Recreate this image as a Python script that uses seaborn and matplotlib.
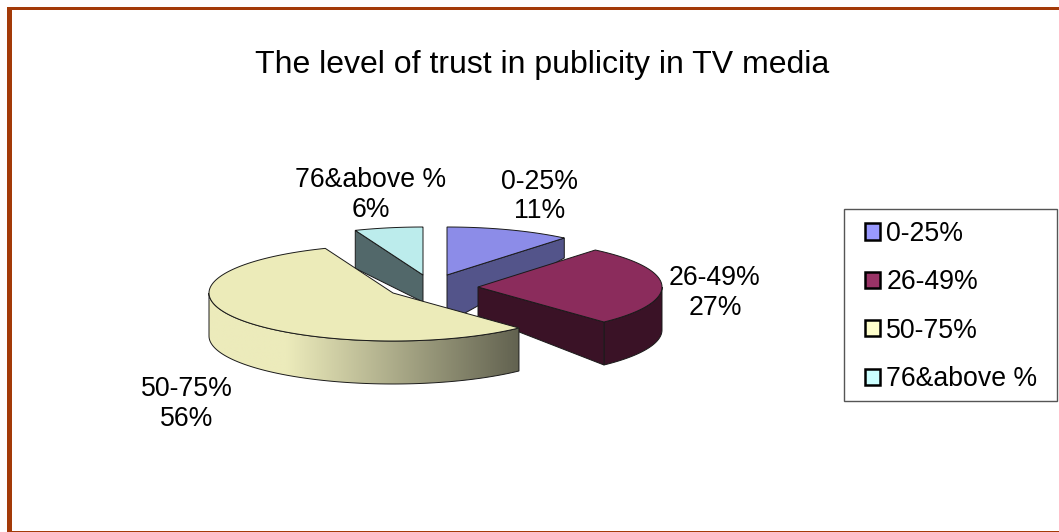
import numpy as np
import matplotlib
matplotlib.use("Agg")
import matplotlib.pyplot as plt
from matplotlib.colors import to_rgb
from matplotlib.patches import Patch, Polygon, Rectangle
import seaborn as sns

# Survey shares, in percent
categories = ["0-25%", "26-49%", "50-75%", "76&above %"]
shares = [11, 27, 56, 6]
title = "The level of trust in publicity in TV media"

# Pie styling
legend_colors = ["#9999ff", "#993366", "#ffffcc", "#ccffff"]
top_colors = ["#8c8ce8", "#8b2c5c", "#ecebb9", "#bcecec"]
wall_colors = ["#53548a", "#3a1226", "#e8e8b8", "#52686a"]
apexes = [(447, 275), (478, 287), (393, 293), (423, 275)]
label_xy = [(540, 196.5), (715, 293), (187, 404), (371, 195)]
apex_depth = [48, 29, 30, 27]
RX, RY = 184, 48
FRAME = "#a33a08"

sns.set_theme(style="white")
plt.rcParams["font.family"] = ["Liberation Sans", "DejaVu Sans"]

fig = plt.figure(figsize=(10.59, 5.32), dpi=100)
ax = fig.add_axes([0, 0, 1, 1])
ax.set_xlim(0, 1059)
ax.set_ylim(532, 0)
ax.axis("off")

# Outer frame
ax.add_patch(Rectangle((7, 7), 1052, 2.5, color=FRAME, lw=0))
ax.add_patch(Rectangle((7, 7), 5, 525, color=FRAME, lw=0))
ax.add_patch(Rectangle((7, 530.5), 1052, 1.5, color=FRAME, lw=0))

fractions = np.array(shares) / sum(shares)
ends = np.cumsum(fractions) * 2 * np.pi
starts = ends - fractions * 2 * np.pi


def rim(center, a, b, n=120):
    t = np.linspace(a, b, n)
    return np.column_stack([center[0] + RX * np.sin(t), center[1] - RY * np.cos(t)])


def shifted(points, dy):
    return points + np.array([0, dy])


edge = dict(edgecolor="#1a1a1a", linewidth=0.7)
draw_order = [3, 0, 1, 2]

# Back slices first, then the ones that overlap them
for i in draw_order:
    c, a, b = apexes[i], starts[i], ends[i]
    apex = np.array(c, dtype=float)
    arc = rim(c, a, b)
    z = 10 + draw_order.index(i) * 3

    if i == 3:
        # radial face running from the centre out to the left corner
        face = [apex, arc[0], arc[0] + [0, 38], apex + [0, apex_depth[i]]]
        ax.add_patch(Polygon(face, facecolor=wall_colors[i], zorder=z, **edge))
    elif i == 0:
        p = arc[-1]
        face = [apex, p, p + [0, 20], apex + [0, apex_depth[i]]]
        ax.add_patch(Polygon(face, facecolor=wall_colors[i], zorder=z, **edge))
    elif i == 1:
        front = rim(c, np.pi / 2, b)
        wall = np.vstack([front, shifted(front, 43)[::-1]])
        ax.add_patch(Polygon(wall, facecolor=wall_colors[i], zorder=z, **edge))
        p = arc[-1]
        face = [apex, p, p + [0, 43], apex + [0, apex_depth[i]]]
        ax.add_patch(Polygon(face, facecolor=wall_colors[i], zorder=z, **edge))
    else:
        # curved wall shaded from light at the left to dark at the right
        front = rim(c, a, 1.5 * np.pi)
        wall = Polygon(np.vstack([front, shifted(front, 43)[::-1]]), facecolor="none", zorder=z + 0.5, **edge)
        ax.add_patch(wall)
        xs = np.linspace(0, 1, 256)
        light, dark = np.array(to_rgb("#ecebbb")), np.array(to_rgb("#626250"))
        weight = np.clip((xs - 0.25) / 0.75, 0, 1)[:, None]
        grad = (light * (1 - weight) + dark * weight)[None, :, :]
        x0, x1 = front[:, 0].min(), front[:, 0].max()
        im = ax.imshow(grad, extent=(x0, x1, 400, 300), aspect="auto", zorder=z, interpolation="bilinear")
        im.set_clip_path(wall)

    top = np.vstack([apex, arc])
    ax.add_patch(Polygon(top, facecolor=top_colors[i], zorder=z + 1, **edge))

ax.set_xlim(0, 1059)
ax.set_ylim(532, 0)

# Slice labels, built from the same shares
for name, value, (x, y) in zip(categories, shares, label_xy):
    ax.text(x, y, f"{name}\n{value}%", ha="center", va="center", fontsize=19.2, color="black",
            linespacing=1.17, zorder=30)

ax.text(542, 65, title, ha="center", va="center", fontsize=23, color="black")

# Legend box and its entries
ax.add_patch(Rectangle((843.5, 208.5), 213.5, 192.5, facecolor="white", edgecolor="#555555", linewidth=1, zorder=20))
handles = [Patch(facecolor=col, edgecolor="black", linewidth=1.8, label=name)
           for col, name in zip(legend_colors, categories)]
legend = ax.legend(handles=handles, loc="upper left", bbox_to_anchor=(865 / 1059, 1 - 221 / 532),
                   bbox_transform=fig.transFigure, frameon=False, fontsize=19.2,
                   handlelength=0.56, handleheight=0.56, handletextpad=0.24,
                   labelspacing=0.84, borderpad=0, borderaxespad=0, labelcolor="black")
legend.set_zorder(25)

fig.savefig("out.png", dpi=100)
